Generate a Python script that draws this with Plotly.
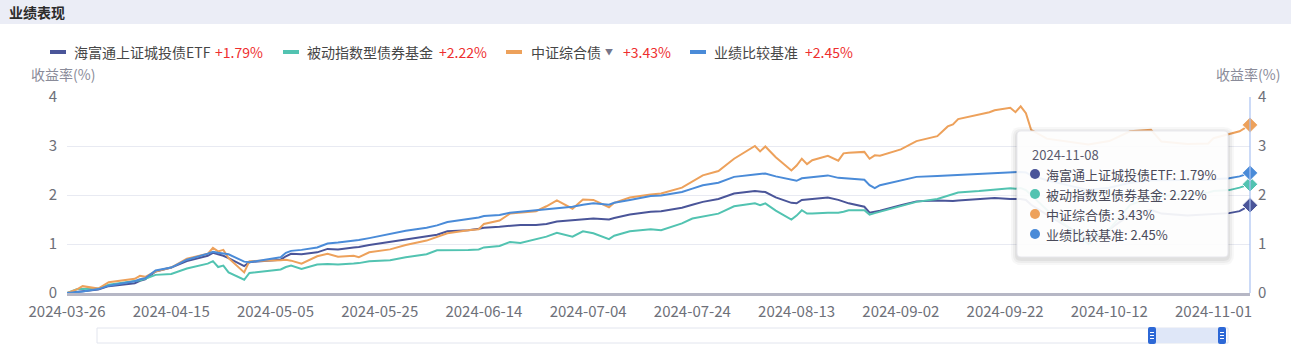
import plotly.graph_objects as go

W, H = 1291, 352
FONT = "Noto Sans CJK SC, Noto Sans, sans-serif"

# ---------------- data ----------------
dates = [
    "2024-03-26", "2024-03-28", "2024-03-29", "2024-04-01", "2024-04-03", "2024-04-08", "2024-04-09",
    "2024-04-10", "2024-04-12", "2024-04-15", "2024-04-18", "2024-04-22", "2024-04-23", "2024-04-24",
    "2024-04-25", "2024-04-26", "2024-04-29", "2024-04-30", "2024-05-06", "2024-05-07", "2024-05-08",
    "2024-05-10", "2024-05-13", "2024-05-15", "2024-05-17", "2024-05-20", "2024-05-21", "2024-05-23",
    "2024-05-27", "2024-05-30", "2024-06-03", "2024-06-05", "2024-06-07", "2024-06-11", "2024-06-13",
    "2024-06-14", "2024-06-17", "2024-06-19", "2024-06-21", "2024-06-24", "2024-06-26", "2024-06-28",
    "2024-07-01", "2024-07-03", "2024-07-05", "2024-07-08", "2024-07-09", "2024-07-12", "2024-07-16",
    "2024-07-18", "2024-07-22", "2024-07-24", "2024-07-26", "2024-07-29", "2024-08-01", "2024-08-05",
    "2024-08-06", "2024-08-07", "2024-08-09", "2024-08-12", "2024-08-13", "2024-08-14", "2024-08-15",
    "2024-08-16", "2024-08-19", "2024-08-21", "2024-08-22", "2024-08-23", "2024-08-26", "2024-08-27",
    "2024-08-28", "2024-08-29", "2024-09-02", "2024-09-05", "2024-09-09", "2024-09-11", "2024-09-12",
    "2024-09-13", "2024-09-17", "2024-09-19", "2024-09-20", "2024-09-23", "2024-09-24", "2024-09-25",
    "2024-09-26", "2024-09-27", "2024-09-30", "2024-10-08", "2024-10-12", "2024-10-16", "2024-10-20",
    "2024-10-22", "2024-10-27", "2024-10-31", "2024-11-01", "2024-11-04", "2024-11-06", "2024-11-08",
]
etf = [
    0.00, 0.02, 0.03, 0.07, 0.14, 0.20, 0.25, 0.28, 0.44, 0.52, 0.65, 0.76, 0.82, 0.79,
    0.76, 0.71, 0.55, 0.63, 0.68, 0.75, 0.80, 0.79, 0.83, 0.90, 0.89, 0.93, 0.94, 0.98,
    1.04, 1.09, 1.15, 1.19, 1.26, 1.28, 1.31, 1.33, 1.35, 1.37, 1.39, 1.39, 1.41, 1.46,
    1.48, 1.50, 1.52, 1.50, 1.53, 1.60, 1.66, 1.67, 1.74, 1.80, 1.86, 1.92, 2.03, 2.08,
    2.07, 2.06, 1.95, 1.84, 1.83, 1.90, 1.91, 1.92, 1.95, 1.90, 1.87, 1.83, 1.76, 1.64,
    1.66, 1.68, 1.79, 1.87, 1.89, 1.88, 1.88, 1.89, 1.91, 1.93, 1.94, 1.92, 1.92, 1.92,
    1.90, 1.80, 1.60, 1.10, 1.30, 1.60, 1.70, 1.62, 1.58, 1.60, 1.60, 1.63, 1.67, 1.79,
]
passive = [
    0.00, 0.08, 0.08, 0.09, 0.17, 0.24, 0.26, 0.29, 0.37, 0.39, 0.50, 0.60, 0.65, 0.53,
    0.56, 0.42, 0.27, 0.41, 0.48, 0.53, 0.56, 0.49, 0.58, 0.59, 0.58, 0.60, 0.61, 0.65,
    0.67, 0.73, 0.79, 0.87, 0.87, 0.88, 0.89, 0.93, 0.96, 1.04, 1.02, 1.09, 1.15, 1.23,
    1.15, 1.26, 1.22, 1.10, 1.17, 1.26, 1.30, 1.28, 1.42, 1.52, 1.56, 1.62, 1.77, 1.83,
    1.79, 1.83, 1.68, 1.50, 1.58, 1.69, 1.62, 1.62, 1.64, 1.64, 1.66, 1.69, 1.69, 1.60,
    1.63, 1.66, 1.77, 1.86, 1.92, 1.99, 2.02, 2.05, 2.08, 2.10, 2.12, 2.14, 2.13, 2.14,
    2.10, 2.00, 1.70, 1.00, 1.30, 1.80, 1.95, 1.98, 2.02, 2.05, 2.08, 2.10, 2.15, 2.22,
]
csi = [
    0.00, 0.08, 0.14, 0.09, 0.22, 0.29, 0.35, 0.33, 0.44, 0.52, 0.70, 0.80, 0.92, 0.85,
    0.88, 0.71, 0.42, 0.65, 0.67, 0.68, 0.66, 0.60, 0.75, 0.80, 0.74, 0.76, 0.73, 0.83,
    0.89, 0.98, 1.07, 1.15, 1.22, 1.28, 1.30, 1.41, 1.48, 1.62, 1.64, 1.67, 1.77, 1.89,
    1.72, 1.91, 1.90, 1.75, 1.84, 1.95, 2.01, 2.03, 2.15, 2.27, 2.40, 2.49, 2.74, 3.00,
    2.89, 2.99, 2.77, 2.50, 2.60, 2.74, 2.63, 2.71, 2.80, 2.70, 2.85, 2.86, 2.88, 2.74,
    2.81, 2.80, 2.93, 3.10, 3.20, 3.40, 3.44, 3.55, 3.64, 3.69, 3.73, 3.78, 3.69, 3.81,
    3.67, 3.33, 3.15, 3.03, 3.10, 3.30, 3.33, 3.09, 3.04, 3.05, 3.16, 3.24, 3.30, 3.43,
]
bench = [
    0.00, 0.02, 0.03, 0.08, 0.15, 0.24, 0.28, 0.30, 0.46, 0.52, 0.68, 0.80, 0.84, 0.82,
    0.81, 0.79, 0.64, 0.63, 0.73, 0.82, 0.86, 0.88, 0.93, 1.01, 1.03, 1.06, 1.08, 1.12,
    1.20, 1.27, 1.33, 1.38, 1.45, 1.50, 1.54, 1.57, 1.59, 1.64, 1.66, 1.69, 1.72, 1.74,
    1.76, 1.80, 1.83, 1.80, 1.84, 1.90, 1.98, 1.99, 2.06, 2.13, 2.20, 2.25, 2.37, 2.42,
    2.43, 2.44, 2.38, 2.31, 2.29, 2.34, 2.35, 2.36, 2.40, 2.35, 2.34, 2.33, 2.31, 2.20,
    2.14, 2.20, 2.29, 2.37, 2.39, 2.40, 2.40, 2.41, 2.43, 2.44, 2.45, 2.46, 2.46, 2.47,
    2.46, 2.40, 2.30, 2.10, 2.15, 2.25, 2.30, 2.30, 2.30, 2.31, 2.32, 2.34, 2.38, 2.45,
]

names = ["海富通上证城投债ETF", "被动指数型债券基金", "中证综合债", "业绩比较基准"]
colors = ["#4a5599", "#52c3b1", "#eda15b", "#4a8bd8"]
series = [etf, passive, csi, bench]

xtick_dates = ["2024-03-26", "2024-04-15", "2024-05-05", "2024-05-25", "2024-06-14", "2024-07-04",
               "2024-07-24", "2024-08-13", "2024-09-02", "2024-09-22", "2024-10-12", "2024-11-01"]
yticks = [0, 1, 2, 3, 4]
title_text = "业绩表现"
axis_title = "收益率(%)"

# ---------------- geometry helpers (pixels -> paper) ----------------
PL, PR, PT, PB = 67, 1250, 97, 293


def fx(px):
    return px / W


def fy(py):
    return 1 - py / H


fig = go.Figure()

for name, col, vals in zip(names, colors, series):
    fig.add_trace(go.Scatter(x=dates, y=vals, mode="lines", name=name,
                             line=dict(color=col, width=2), hoverinfo="skip",
                             xaxis="x", yaxis="y"))

fig.add_trace(go.Scatter(x=[dates[-1]] * len(series), y=[s[-1] for s in series], mode="markers",
                         marker=dict(symbol="diamond", size=12, color=colors,
                                     line=dict(color="white", width=1)),
                         hoverinfo="skip", cliponaxis=False, xaxis="x", yaxis="y2"))

shapes = []
annotations = []

# header band
shapes.append(dict(type="rect", xref="paper", yref="paper", x0=0, x1=1, y0=fy(24), y1=1,
                   fillcolor="#ebedf6", line=dict(width=0), layer="below"))
annotations.append(dict(text="<b>" + title_text + "</b>", x=fx(7), y=fy(12), xref="paper", yref="paper",
                        xanchor="left", yanchor="middle", showarrow=False,
                        font=dict(size=14, color="#2b2b2b", family=FONT)))

# legend
leg_line_x = [50, 283, 506, 690]
leg_name_x = [72, 305, 529, 712]
leg_pct_x = [213, 437, 621, 803]
LY = 52
for i in range(4):
    shapes.append(dict(type="line", xref="paper", yref="paper", x0=fx(leg_line_x[i]), x1=fx(leg_line_x[i] + 16),
                       y0=fy(LY), y1=fy(LY), line=dict(color=colors[i], width=4)))
    annotations.append(dict(text=names[i], x=fx(leg_name_x[i]), y=fy(LY), xref="paper", yref="paper",
                            xanchor="left", yanchor="middle", showarrow=False,
                            font=dict(size=14, color="#464646", family=FONT)))
    annotations.append(dict(text="+%.2f%%" % series[i][-1], x=fx(leg_pct_x[i]), y=fy(LY), xref="paper",
                            yref="paper", xanchor="left", yanchor="middle", showarrow=False,
                            font=dict(size=14, color="#ee2e2e", family=FONT)))
annotations.append(dict(text="▼", x=fx(609), y=fy(LY - 1), xref="paper", yref="paper",
                        xanchor="center", yanchor="middle", showarrow=False,
                        font=dict(size=8, color="#76768a", family=FONT)))

# axis titles
annotations.append(dict(text=axis_title, x=fx(97), y=fy(74), xref="paper", yref="paper",
                        xanchor="right", yanchor="middle", showarrow=False,
                        font=dict(size=14, color="#8a8b99", family=FONT)))
annotations.append(dict(text=axis_title, x=fx(1282), y=fy(74), xref="paper", yref="paper",
                        xanchor="right", yanchor="middle", showarrow=False,
                        font=dict(size=14, color="#8a8b99", family=FONT)))

# axis pointer line at last date (right edge)
shapes.append(dict(type="line", xref="paper", yref="paper", x0=fx(PR), x1=fx(PR), y0=fy(PB), y1=fy(PT),
                   line=dict(color="#a9c1f2", width=1.2), layer="above"))


# tooltip
def rrect(x0, y0, x1, y1, r):
    return ("M %f %f L %f %f Q %f %f %f %f L %f %f Q %f %f %f %f L %f %f Q %f %f %f %f L %f %f Q %f %f %f %f Z" % (
        fx(x0 + r), fy(y0), fx(x1 - r), fy(y0), fx(x1), fy(y0), fx(x1), fy(y0 + r),
        fx(x1), fy(y1 - r), fx(x1), fy(y1), fx(x1 - r), fy(y1),
        fx(x0 + r), fy(y1), fx(x0), fy(y1), fx(x0), fy(y1 - r),
        fx(x0), fy(y0 + r), fx(x0), fy(y0), fx(x0 + r), fy(y0)))


TX0, TY0, TX1, TY1 = 1017, 131, 1228, 257
for k, a in [(6, 0.03), (4, 0.04), (2, 0.05)]:
    shapes.append(dict(type="path", xref="paper", yref="paper", path=rrect(TX0 - k, TY0 - k + 2, TX1 + k, TY1 + k + 2, 4 + k),
                       fillcolor="rgba(0,0,0,%.2f)" % a, line=dict(width=0), layer="above"))
shapes.append(dict(type="path", xref="paper", yref="paper", path=rrect(TX0, TY0, TX1, TY1, 4),
                   fillcolor="rgba(255,255,255,0.92)", line=dict(color="rgba(230,230,235,0.9)", width=1),
                   layer="above"))
annotations.append(dict(text=dates[-1], x=fx(1030), y=fy(154), xref="paper", yref="paper",
                        xanchor="left", yanchor="middle", showarrow=False,
                        font=dict(size=13, color="#5a5a6e", family=FONT)))
for i in range(4):
    yy = 174 + 20 * i
    shapes.append(dict(type="circle", xref="paper", yref="paper", x0=fx(1030), x1=fx(1040),
                       y0=fy(yy - 5), y1=fy(yy + 5), fillcolor=colors[i], line=dict(width=0), layer="above"))
    annotations.append(dict(text="%s: %.2f%%" % (names[i], series[i][-1]), x=fx(1044), y=fy(yy),
                            xref="paper", yref="paper", xanchor="left", yanchor="middle", showarrow=False,
                            font=dict(size=13, color="#4a4a5a", family=FONT)))

# data zoom slider (decorative)
SX0, SX1, SY0, SY1 = 97, 1228, 328, 343
shapes.append(dict(type="rect", xref="paper", yref="paper", x0=fx(SX0), x1=fx(SX1), y0=fy(SY1), y1=fy(SY0),
                   fillcolor="white", line=dict(color="#e2e5ee", width=1)))
shapes.append(dict(type="rect", xref="paper", yref="paper", x0=fx(1153), x1=fx(1221), y0=fy(SY1), y1=fy(SY0),
                   fillcolor="#dfe7f8", line=dict(width=0)))
for hx in (1152, 1222):
    shapes.append(dict(type="path", xref="paper", yref="paper", path=rrect(hx - 4, SY0 - 1, hx + 4, SY1 + 1, 2),
                       fillcolor="#2d68d6", line=dict(width=0)))
    for dy in (-3, 0, 3):
        shapes.append(dict(type="line", xref="paper", yref="paper", x0=fx(hx - 2), x1=fx(hx + 2),
                           y0=fy((SY0 + SY1) / 2 + dy), y1=fy((SY0 + SY1) / 2 + dy),
                           line=dict(color="white", width=1)))

tick_font = dict(size=15, color="#6e7079", family=FONT)
fig.update_layout(
    width=W, height=H,
    margin=dict(l=0, r=0, t=0, b=0, autoexpand=False),
    paper_bgcolor="white", plot_bgcolor="white",
    showlegend=False, hovermode=False,
    font=dict(family=FONT),
    xaxis=dict(domain=[fx(PL), fx(PR)], type="date", range=[dates[0], dates[-1]],
               tickvals=xtick_dates, ticktext=xtick_dates, tickfont=tick_font,
               showgrid=False, zeroline=False, showline=True, linecolor="#b6b7c5", linewidth=3,
               ticks="", ticklabelstandoff=3, fixedrange=True),
    yaxis=dict(domain=[fy(PB), fy(PT)], range=[0, 4], tickvals=yticks, tickfont=dict(size=15, color="#6e7079", family=FONT),
               showgrid=True, gridcolor="#e8eaf2", gridwidth=1, zeroline=False, showline=False,
               ticks="", ticklabelstandoff=9, fixedrange=True),
    yaxis2=dict(overlaying="y", side="right", anchor="x", range=[0, 4], tickvals=yticks,
                tickfont=dict(size=15, color="#6e7079", family=FONT), showgrid=False, zeroline=False,
                showline=False, ticks="", ticklabelstandoff=7, fixedrange=True),
    shapes=shapes, annotations=annotations,
)

fig.write_html("out.html")
